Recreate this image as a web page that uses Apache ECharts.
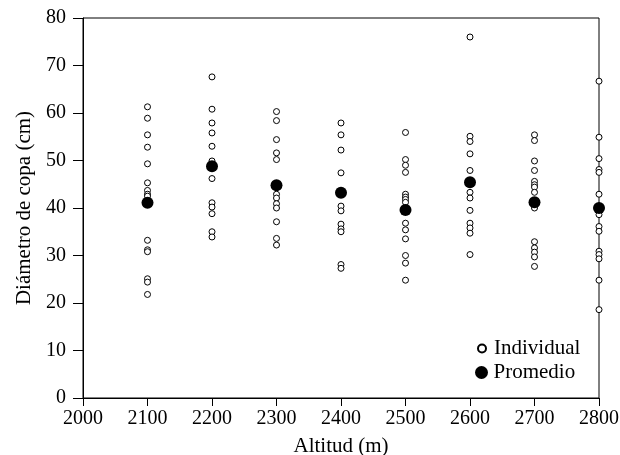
<!DOCTYPE html>
<html>
<head>
<meta charset="utf-8">
<script src="https://cdn.jsdelivr.net/npm/echarts@6/dist/echarts.min.js"></script>
<style>
html,body{margin:0;padding:0;background:#fff;}
#c{width:620px;height:455px;}
</style>
</head>
<body>
<div id="c"></div>
<script>
// Altitudes (m)
const altitudes = [2100, 2200, 2300, 2400, 2500, 2600, 2700, 2800];
// Individual crown diameters (cm) per altitude
const ind2100 = [61.3, 58.9, 55.4, 52.8, 49.3, 45.3, 43.7, 42.9, 42.5, 33.2, 31.2, 30.8, 25.1, 24.4, 21.8];
const ind2200 = [67.6, 60.8, 57.9, 55.8, 53.0, 49.9, 46.2, 41.1, 40.2, 38.8, 35.0, 33.9];
const ind2300 = [60.3, 58.4, 54.4, 51.6, 50.2, 42.9, 42.1, 40.9, 40.0, 37.1, 33.6, 32.2];
const ind2400 = [57.9, 55.4, 52.2, 47.4, 40.4, 39.4, 36.6, 35.6, 35.0, 28.1, 27.3];
const ind2500 = [55.9, 50.2, 49.0, 47.5, 42.9, 42.3, 41.8, 41.2, 36.8, 35.4, 33.5, 30.0, 28.4, 24.8];
const ind2600 = [76.0, 55.1, 54.0, 51.4, 47.9, 43.3, 42.1, 39.5, 36.8, 35.8, 34.7, 30.2];
const ind2700 = [55.4, 54.2, 49.9, 47.9, 45.6, 44.9, 44.4, 43.3, 40.0, 32.9, 31.6, 30.7, 29.7, 27.7];
const ind2800 = [66.7, 54.9, 50.4, 48.1, 47.5, 42.9, 39.5, 38.6, 36.1, 35.1, 30.9, 30.2, 29.3, 24.8, 18.6];
// Means (Promedio)
const means = [41.1, 48.8, 44.8, 43.2, 39.6, 45.4, 41.2, 40.0];
// Axis ticks
const xTicks = [2000, 2100, 2200, 2300, 2400, 2500, 2600, 2700, 2800];
const yTicks = [0, 10, 20, 30, 40, 50, 60, 70, 80];

const groups = [ind2100, ind2200, ind2300, ind2400, ind2500, ind2600, ind2700, ind2800];
const indData = [];
groups.forEach((g, i) => g.forEach(v => indData.push([altitudes[i], v])));
const meanData = means.map((v, i) => [altitudes[i], v]);

const FONT = "'Liberation Serif', 'Times New Roman', serif";
const chart = echarts.init(document.getElementById('c'), null, {renderer: 'canvas'});
chart.setOption({
  animation: false,
  backgroundColor: '#fff',
  textStyle: {fontFamily: FONT, color: '#000'},
  grid: {left: 83, right: 21, top: 18, bottom: 57, show: true, borderColor: '#000', borderWidth: 1,
         backgroundColor: 'transparent', containLabel: false, outerBoundsMode: 'none'},
  xAxis: {
    type: 'value', min: xTicks[0], max: xTicks[xTicks.length - 1], interval: 100,
    name: 'Altitud (m)', nameLocation: 'middle', nameGap: 38,
    nameTextStyle: {fontFamily: FONT, fontSize: 21, color: '#000'},
    axisLine: {show: true, lineStyle: {color: '#000', width: 1}},
    axisTick: {show: true, length: 8, lineStyle: {color: '#000', width: 1}},
    axisLabel: {fontFamily: FONT, fontSize: 20, color: '#000', margin: 11,
                formatter: v => String(v)},
    splitLine: {show: false}
  },
  yAxis: {
    type: 'value', min: yTicks[0], max: yTicks[yTicks.length - 1], interval: 10,
    name: 'Diámetro de copa (cm)', nameLocation: 'middle', nameGap: 48,
    nameTextStyle: {fontFamily: FONT, fontSize: 21, color: '#000'},
    axisLine: {show: true, lineStyle: {color: '#000', width: 1}},
    axisTick: {show: true, length: 10, lineStyle: {color: '#000', width: 1}},
    axisLabel: {fontFamily: FONT, fontSize: 20, color: '#000', margin: 17,
                formatter: v => String(v)},
    splitLine: {show: false}
  },
  legend: [
    {data: ['Individual'], orient: 'vertical', left: 472, top: 333, itemWidth: 14, itemHeight: 8,
     textStyle: {fontFamily: FONT, fontSize: 21, color: '#000'}},
    {data: ['Promedio'], orient: 'vertical', left: 470, top: 357, itemWidth: 14, itemHeight: 13,
     textStyle: {fontFamily: FONT, fontSize: 21, color: '#000'}}
  ],
  series: [
    {name: 'Individual', type: 'scatter', data: indData, symbol: 'circle', symbolSize: 6,
     itemStyle: {color: '#fff', borderColor: '#000', borderWidth: 1, opacity: 1}},
    {name: 'Promedio', type: 'scatter', data: meanData, symbol: 'circle', symbolSize: 12,
     itemStyle: {color: '#000', borderColor: '#000', borderWidth: 0, opacity: 1}, z: 3}
  ]
});
</script>
</body>
</html>
